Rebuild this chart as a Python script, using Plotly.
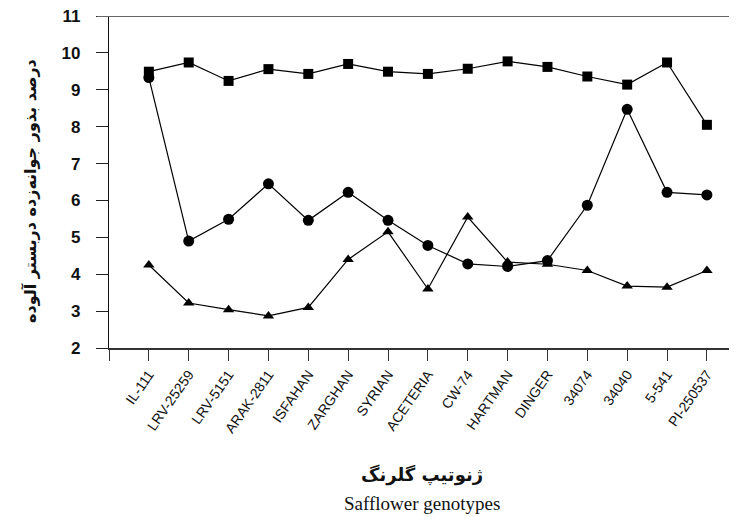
import plotly.graph_objects as go

genotypes = ["IL-111", "LRV-25259", "LRV-5151", "ARAK-2811", "ISFAHAN", "ZARGHAN", "SYRIAN",
             "ACETERIA", "CW-74", "HARTMAN", "DINGER", "34074", "34040", "5-541", "PI-250537"]
series_square = [9.49, 9.74, 9.24, 9.56, 9.43, 9.70, 9.49, 9.43, 9.57, 9.77, 9.62, 9.36, 9.14, 9.74, 8.05]
series_circle = [9.33, 4.90, 5.49, 6.45, 5.46, 6.22, 5.46, 4.78, 4.28, 4.21, 4.37, 5.87, 8.47, 6.22, 6.15]
series_triangle = [4.25, 3.22, 3.04, 2.87, 3.10, 4.40, 5.15, 3.60, 5.55, 4.33, 4.27, 4.10, 3.68, 3.65, 4.10]
y_ticks = [2, 3, 4, 5, 6, 7, 8, 9, 10, 11]

xpos = list(range(1, len(genotypes) + 1))

fig = go.Figure()
for vals, sym, sz in [(series_square, "square", 10), (series_circle, "circle", 11), (series_triangle, "triangle-up", 10)]:
    fig.add_trace(go.Scatter(
        x=xpos, y=vals, mode="lines+markers",
        line=dict(color="black", width=1.2),
        marker=dict(symbol=sym, size=sz, color="black"),
        showlegend=False, cliponaxis=False,
    ))

# page body has an 8px default margin; compensate
OFF = 8
W, H = 737 - OFF, 517 - OFF
L, T = 109 - OFF, 16 - OFF
PB = 348 - OFF  # plot bottom in figure px
B = H - PB
PW, PH = W - L, PB - T

def px_x(x):
    return (x - OFF - L) / PW

def px_y(y):
    return (PB - (y - OFF)) / PH

fig.update_layout(
    width=W, height=H,
    margin=dict(l=L, r=0, t=T, b=B, pad=0),
    plot_bgcolor="white", paper_bgcolor="white",
    xaxis=dict(
        range=[0, 15.755], tickmode="array", tickvals=[0] + xpos, ticktext=[""] + genotypes,
        ticks="outside", ticklen=11, tickwidth=1.3, tickcolor="#333",
        showline=True, linecolor="#333", linewidth=1.5, showgrid=False, zeroline=False,
        tickangle=-55, tickfont=dict(family="Liberation Sans, Arial", size=14, color="#111"),
        ticklabeloverflow="allow",
    ),
    yaxis=dict(
        range=[2, 11], tickvals=y_ticks, ticks="outside", ticklen=12, tickwidth=1.3, tickcolor="#222",
        showline=True, linecolor="#111", linewidth=1.3, showgrid=False, zeroline=False,
        tickfont=dict(family="Liberation Sans, Arial", size=17, color="#111", weight="bold"),
        ticklabelstandoff=12, ticklabeloverflow="allow",
    ),
    shapes=[dict(type="line", xref="paper", yref="y", x0=-12 / PW, x1=1, y0=11, y1=11,
                 line=dict(color="#666", width=2))],
    annotations=[
        dict(text="درصد بذور جوانه‌زده دربستر آلوده", textangle=-90, xref="paper", yref="paper",
             x=px_x(30), y=px_y(191), showarrow=False,
             xanchor="center", yanchor="middle",
             font=dict(family="DejaVu Sans", size=16, color="#111", weight="bold")),
        dict(text="ژنوتیپ گلرنگ", xref="paper", yref="paper",
             x=px_x(422), y=px_y(475), showarrow=False,
             xanchor="center", yanchor="middle",
             font=dict(family="DejaVu Sans", size=18, color="#111", weight="bold")),
        dict(text="Safflower genotypes", xref="paper", yref="paper",
             x=px_x(422), y=px_y(503), showarrow=False,
             xanchor="center", yanchor="middle",
             font=dict(family="Liberation Serif, Times New Roman", size=19, color="#111")),
    ],
)
fig.write_html("out.html")
